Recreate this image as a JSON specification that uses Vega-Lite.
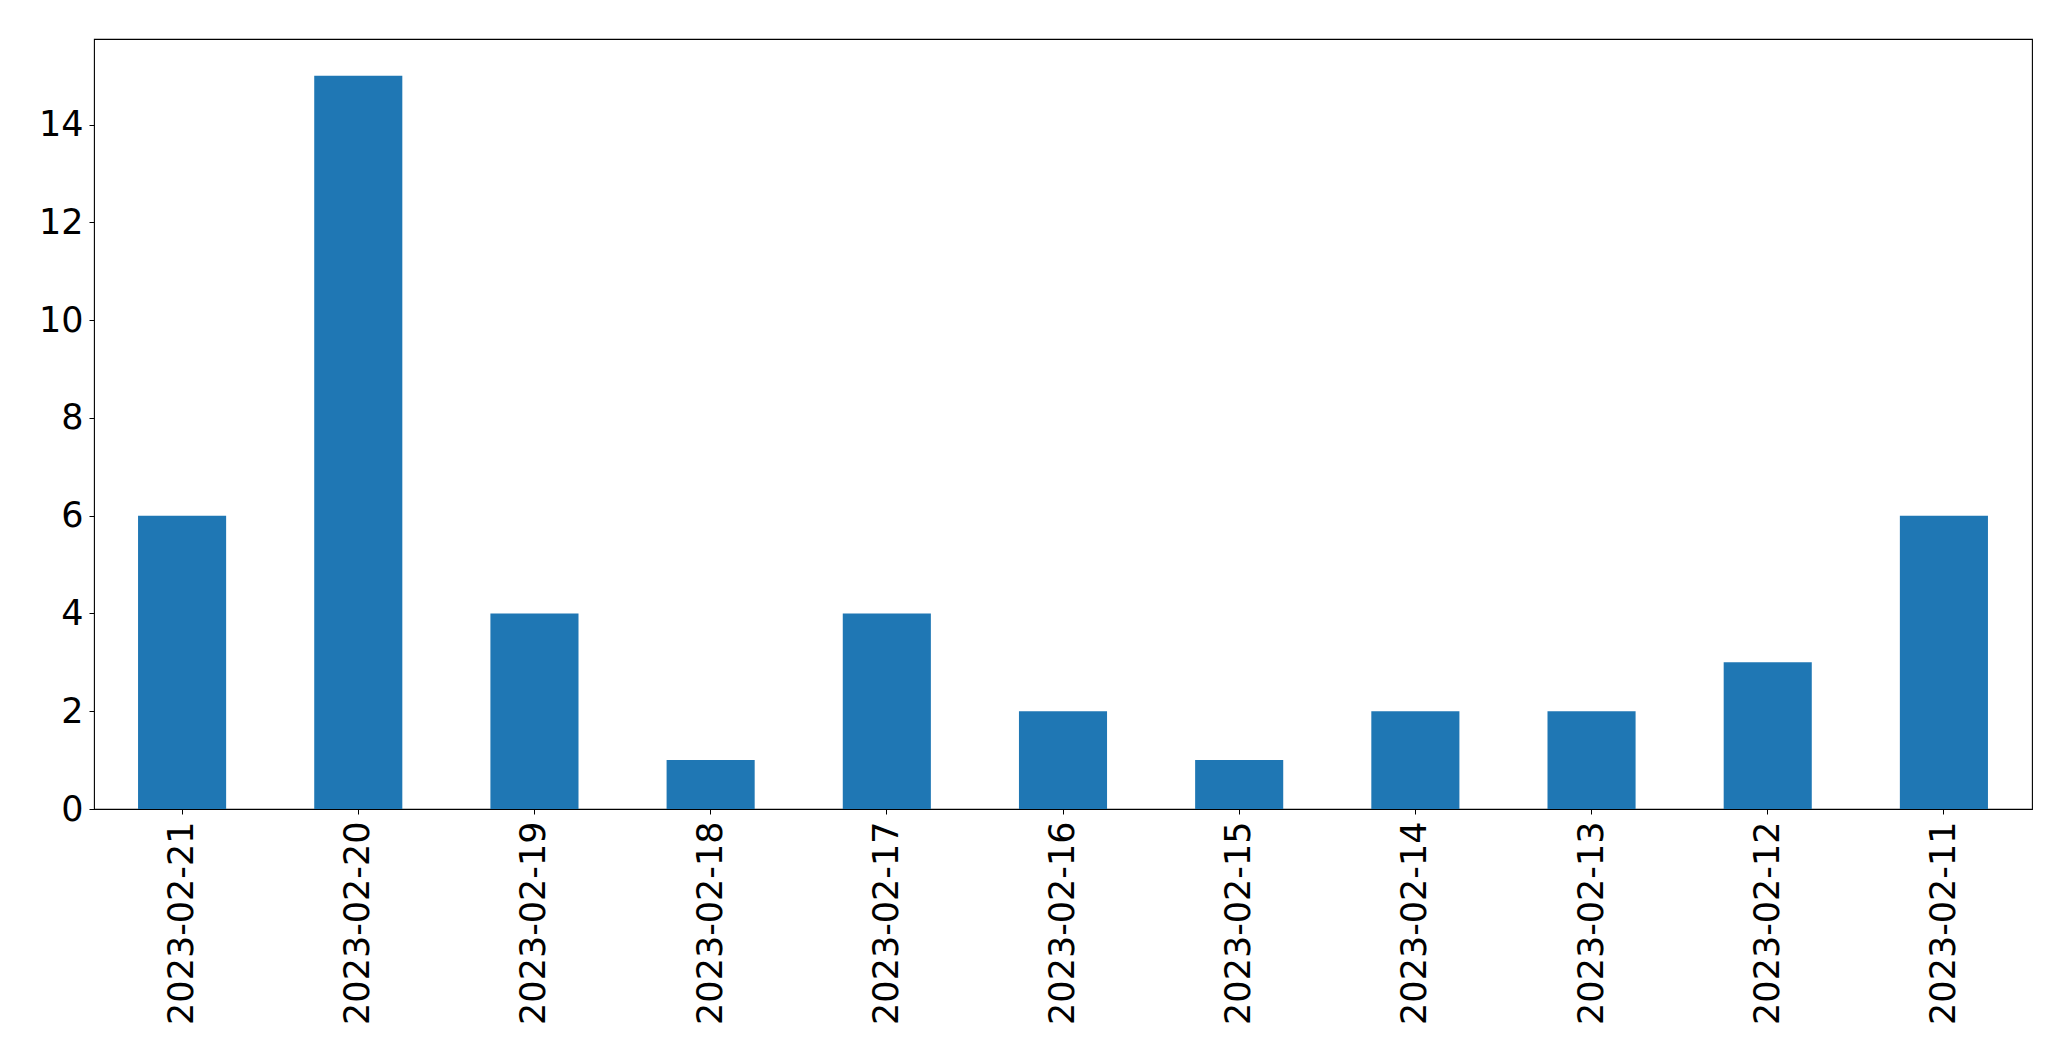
{
  "$schema": "https://vega.github.io/schema/vega-lite/v6.json",
  "width": 1938,
  "height": 770,
  "autosize": {"type": "none"},
  "padding": {"left": 94, "top": 39, "right": 39, "bottom": 252},
  "background": "white",
  "config": {
    "view": {"stroke": "black", "strokeWidth": 1.1},
    "font": "DejaVu Sans"
  },
  "data": {
    "values": [
      {"date": "2023-02-21", "count": 6},
      {"date": "2023-02-20", "count": 15},
      {"date": "2023-02-19", "count": 4},
      {"date": "2023-02-18", "count": 1},
      {"date": "2023-02-17", "count": 4},
      {"date": "2023-02-16", "count": 2},
      {"date": "2023-02-15", "count": 1},
      {"date": "2023-02-14", "count": 2},
      {"date": "2023-02-13", "count": 2},
      {"date": "2023-02-12", "count": 3},
      {"date": "2023-02-11", "count": 6}
    ]
  },
  "mark": {"type": "bar", "color": "#1f77b4"},
  "encoding": {
    "x": {
      "field": "date",
      "type": "nominal",
      "sort": null,
      "scale": {"paddingInner": 0.5, "paddingOuter": 0.25},
      "axis": {
        "title": null,
        "labelAngle": -90,
        "labelFontSize": 35,
        "labelLimit": 0,
        "labelColor": "black",
        "labelFont": "DejaVu Sans",
        "labelPadding": 7,
        "tickSize": 5,
        "tickColor": "black",
        "domain": false,
        "grid": false
      }
    },
    "y": {
      "field": "count",
      "type": "quantitative",
      "scale": {"domain": [0, 15.75], "nice": false},
      "axis": {
        "title": null,
        "values": [0, 2, 4, 6, 8, 10, 12, 14],
        "labelFontSize": 35,
        "labelColor": "black",
        "labelFont": "DejaVu Sans",
        "labelPadding": 6,
        "tickSize": 5,
        "tickColor": "black",
        "domain": false,
        "grid": false
      }
    }
  }
}
